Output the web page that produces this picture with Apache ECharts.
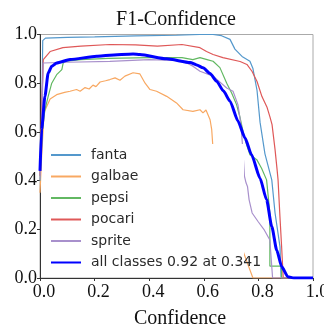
<!DOCTYPE html>
<html>
<head>
<meta charset="utf-8">
<script src="https://cdn.jsdelivr.net/npm/echarts@6/dist/echarts.min.js"></script>
<style>
  html, body { margin: 0; padding: 0; background: #fff; }
  #chart { width: 324px; height: 330px; }
</style>
</head>
<body>
<div id="chart"></div>
<script>
// F1 vs confidence ([confidence, f1])
const classNames = ['fanta', 'galbae', 'pepsi', 'pocari', 'sprite'];
const allLabel = 'all classes 0.92 at 0.341';
const xTicks = [0, 0.2, 0.4, 0.6, 0.8, 1.0];

const fanta = [[0,0.42],[0.006,0.62],[0.01,0.975],[0.02,0.985],[0.1,0.988],[0.2,0.99],[0.35,0.994],[0.5,0.997],[0.586,1.0],[0.634,1.0],[0.665,0.995],[0.696,0.98],[0.714,0.94],[0.74,0.91],[0.769,0.89],[0.78,0.86],[0.795,0.77],[0.806,0.64],[0.824,0.51],[0.849,0.403],[0.861,0.267],[0.879,0.129],[0.883,0],[1,0]];
const galbae = [[0,0.35],[0.006,0.5],[0.015,0.68],[0.025,0.705],[0.037,0.735],[0.061,0.753],[0.09,0.762],[0.11,0.767],[0.134,0.774],[0.147,0.767],[0.165,0.782],[0.18,0.776],[0.194,0.792],[0.205,0.786],[0.22,0.805],[0.24,0.81],[0.256,0.815],[0.275,0.822],[0.293,0.812],[0.311,0.829],[0.341,0.843],[0.366,0.838],[0.385,0.8],[0.403,0.774],[0.427,0.767],[0.464,0.746],[0.5,0.719],[0.524,0.691],[0.56,0.684],[0.586,0.691],[0.597,0.678],[0.608,0.69],[0.623,0.65],[0.629,0.609],[0.634,0.527],[0.647,0.458],[0.666,0.362],[0.684,0.309],[0.702,0.252],[0.72,0.198],[0.739,0.125],[0.76,0.06],[0.78,0],[1,0]];
const pepsi = [[0,0.4],[0.008,0.6],[0.018,0.691],[0.03,0.746],[0.043,0.8],[0.061,0.835],[0.08,0.856],[0.085,0.883],[0.098,0.891],[0.15,0.897],[0.25,0.902],[0.4,0.905],[0.52,0.905],[0.56,0.897],[0.586,0.905],[0.612,0.897],[0.634,0.89],[0.659,0.864],[0.684,0.8],[0.702,0.76],[0.72,0.712],[0.733,0.658],[0.744,0.6],[0.757,0.547],[0.769,0.506],[0.794,0.486],[0.812,0.45],[0.83,0.403],[0.842,0.267],[0.842,0.049],[0.885,0.049],[0.885,0],[1,0]];
const pocari = [[0,0.42],[0.006,0.7],[0.012,0.897],[0.037,0.93],[0.084,0.946],[0.15,0.952],[0.256,0.959],[0.35,0.957],[0.43,0.952],[0.52,0.959],[0.586,0.946],[0.61,0.93],[0.634,0.918],[0.67,0.905],[0.733,0.889],[0.758,0.877],[0.777,0.848],[0.795,0.807],[0.813,0.745],[0.832,0.7],[0.842,0.663],[0.85,0.63],[0.861,0.527],[0.868,0.45],[0.872,0.403],[0.879,0.25],[0.885,0.129],[0.891,0],[1,0]];
const sprite = [[0,0.4],[0.005,0.6],[0.012,0.883],[0.1,0.886],[0.256,0.89],[0.4,0.897],[0.52,0.893],[0.56,0.87],[0.586,0.849],[0.634,0.829],[0.684,0.78],[0.707,0.767],[0.725,0.712],[0.736,0.63],[0.743,0.527],[0.749,0.417],[0.755,0.39],[0.76,0.376],[0.766,0.321],[0.777,0.267],[0.8,0.23],[0.82,0.2],[0.842,0.156],[0.852,0],[1,0]];
const allClasses = [[0,0.44],[0.006,0.609],[0.018,0.746],[0.03,0.842],[0.043,0.87],[0.061,0.883],[0.11,0.897],[0.208,0.911],[0.256,0.915],[0.341,0.92],[0.366,0.918],[0.464,0.9],[0.55,0.885],[0.574,0.875],[0.597,0.863],[0.623,0.84],[0.647,0.808],[0.672,0.768],[0.696,0.726],[0.725,0.645],[0.751,0.575],[0.775,0.506],[0.806,0.41],[0.83,0.321],[0.849,0.211],[0.867,0.115],[0.885,0.047],[0.908,0.005],[0.93,0],[1,0]];

const classData = [fanta, galbae, pepsi, pocari, sprite];
const classColors = ['#5498cc', '#f8a862', '#62b862', '#df5858', '#a890cc'];

const serif = '"Liberation Serif", "Times New Roman", serif';
const chart = echarts.init(document.getElementById('chart'));

const series = classNames.map((name, i) => ({
  name,
  type: 'line',
  data: classData[i],
  symbol: 'none',
  lineStyle: { color: classColors[i], width: 1.2 },
  itemStyle: { color: classColors[i] },
  z: 2,
}));
series.push({
  name: allLabel,
  type: 'line',
  data: allClasses,
  symbol: 'none',
  smooth: 0.2,
  smoothMonotone: 'x',
  lineStyle: { color: '#0000ff', width: 3 },
  itemStyle: { color: '#0000ff' },
  z: 2,
});

chart.setOption({
  animation: false,
  title: {
    text: 'F1-Confidence',
    left: 171,
    top: 5,
    textAlign: 'center',
    textStyle: { fontFamily: serif, fontSize: 20, fontWeight: 'normal', color: '#111' },
  },
  grid: {
    left: 40, right: 11, top: 34.5, bottom: 52,
    outerBoundsMode: 'none',
    show: true, borderColor: '#aaa', borderWidth: 1,
  },
  // legend frame: white box that hides the curves behind it
  graphic: [{
    type: 'rect', left: 43, top: 144, z: 3,
    shape: { width: 201, height: 130 },
    style: { fill: '#fff' },
  }],
  legend: {
    orient: 'vertical',
    left: 50,
    top: 148,
    padding: 0,
    itemWidth: 30,
    itemHeight: 14,
    itemGap: 7.5,
    z: 5,
    itemStyle: { opacity: 0 },
    data: classNames.concat([allLabel]),
    textStyle: { fontFamily: '"DejaVu Sans", sans-serif', fontSize: 14, color: '#2a2a2a', padding: [0, 0, 0, 5] },
  },
  xAxis: {
    type: 'value',
    min: 0, max: 1, interval: 0.2,
    name: 'Confidence',
    nameLocation: 'middle',
    nameGap: 31,
    nameTextStyle: { fontFamily: serif, fontSize: 20, color: '#111', padding: [0, 0, 0, 7] },
    axisLine: { show: true, lineStyle: { color: '#333' } },
    axisTick: { show: true, length: 3, lineStyle: { color: '#333' } },
    splitLine: { show: false },
    axisLabel: {
      fontFamily: serif, fontSize: 18, color: '#111', margin: 5,
      padding: [0, 0, 0, 8],
      formatter: v => xTicks.includes(+v.toFixed(1)) ? v.toFixed(1) : '',
    },
  },
  yAxis: {
    type: 'value',
    min: 0, max: 1, interval: 0.2,
    axisLine: { show: true, lineStyle: { color: '#333' } },
    axisTick: { show: true, length: 3, lineStyle: { color: '#333' } },
    splitLine: { show: false },
    axisLabel: { fontFamily: serif, fontSize: 18, color: '#111', margin: 3, formatter: v => v.toFixed(1) },
  },
  series,
});
</script>
</body>
</html>
